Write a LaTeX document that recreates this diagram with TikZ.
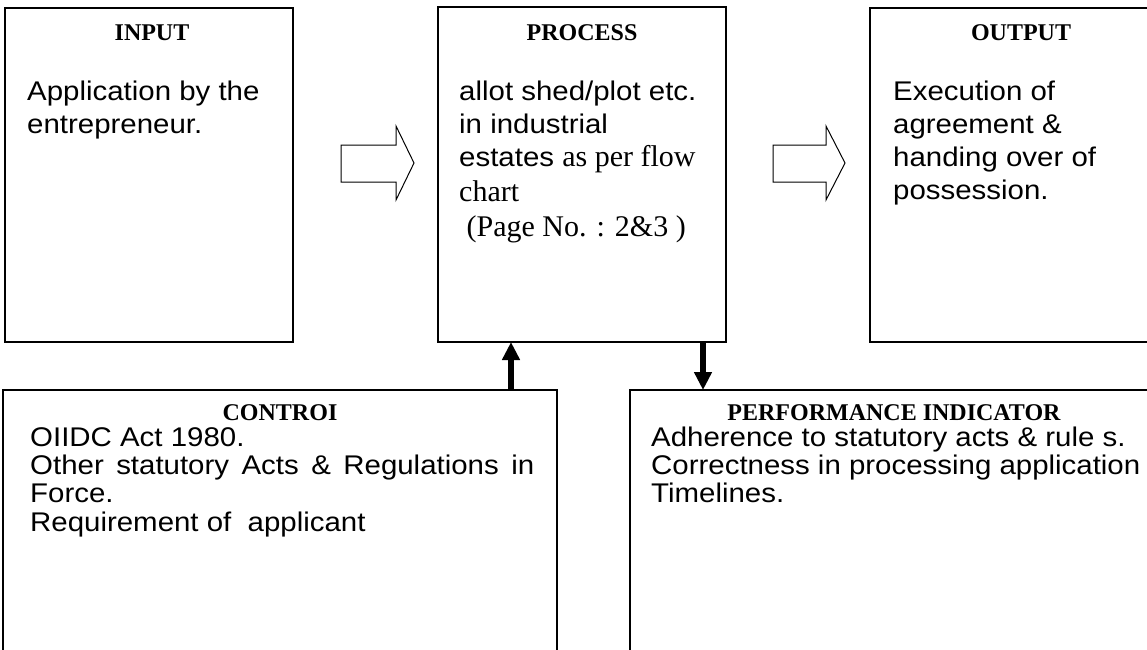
\documentclass[tikz,border=0pt]{standalone}
\usepackage{fontspec}
\setmainfont{Liberation Serif}
\newfontfamily\arialx[FakeStretch=1.09]{Liberation Sans}
\newcommand\bodyfont{\arialx\fontsize{27}{32}\selectfont}
\newcommand\titlefont{\rmfamily\bfseries\fontsize{24}{28}\selectfont}
\newcommand\timesfont{\rmfamily\fontsize{30}{34}\selectfont}
\usetikzlibrary{arrows.meta}
\begin{document}
\begin{tikzpicture}[x=1pt,y=-1pt,
  box/.style={draw, line width=1.7pt, inner sep=0pt, outer sep=0pt, anchor=north west},
  txt/.style={anchor=base west, inner sep=0pt, font=\bodyfont},
  ttl/.style={anchor=base, inner sep=0pt, font=\titlefont},
  tms/.style={anchor=base west, inner sep=0pt, font=\timesfont},
  hollow/.style={draw, line width=1pt, fill=white, line join=miter},
  solidarrow/.style={line width=6pt, -{Triangle[width=17pt,length=18pt]}}]
\useasboundingbox (0,0) rectangle (1147,649);
\clip (0,0) rectangle (1147,649);
\fill[white] (0,0) rectangle (1147,649);

% boxes
\node[box, minimum width=288pt, minimum height=334pt] (input) at (5,8) {};
\node[box, minimum width=288pt, minimum height=335pt] (process) at (438,7) {};
\node[box, minimum width=302pt, minimum height=334pt] (output) at (870,8) {};
\node[box, minimum width=554pt, minimum height=300pt] (control) at (3,390) {};
\node[box, minimum width=528pt, minimum height=300pt] (perf) at (630,390) {};

% titles
\node[ttl] (inT) at (152,40) {INPUT};
\node[ttl] (prT) at (582,40) {PROCESS};
\node[ttl] (ouT) at (1021,40) {OUTPUT};
\node[ttl] (coT) at (280,420) {CONTROI};
\node[ttl] (peT) at (894,420) {PERFORMANCE INDICATOR};

% input text
\node[txt] (in1) at (27,100) {Application by the};
\node[txt] (in2) at (27,133) {entrepreneur.};

% process text
\node[txt] (pr1) at (459,100) {allot shed/plot etc.};
\node[txt] (pr2) at (459,133) {in industrial};
\node[txt] (pr3) at (459,166) {estates {\timesfont as per flow}};
\node[tms] (pr4) at (459,201) {chart};
\node[tms] (pr5) at (459,236) {\ (Page No. : 2\&3 )};

% output text
\node[txt] (ou1) at (893,100) {Execution of};
\node[txt] (ou2) at (893,133) {agreement \&};
\node[txt] (ou3) at (893,166) {handing over of};
\node[txt] (ou4) at (893,199) {possession.};

% control text
\node[txt] (co1) at (30,446) {OIIDC Act 1980.};
\node[txt] (co2) at (30,474) {\makebox[504pt][s]{Other statutory Acts \& Regulations in}};
\node[txt] (co3) at (30,502) {Force.};
\node[txt] (co4) at (30,531) {Requirement of \ applicant};

% performance text
\node[txt] (pe1) at (651,446) {Adherence to statutory acts \& rule s.};
\node[txt] (pe2) at (651,474) {Correctness in processing application};
\node[txt] (pe3) at (651,502) {Timelines.};

% hollow block arrows
\draw[hollow] (341,145) -- (396,145) -- (396,126) -- (414,163) -- (396,200) -- (396,182) -- (341,182) -- cycle;
\draw[hollow] (773,145) -- (826,145) -- (826,126) -- (845,163) -- (826,200) -- (826,182) -- (773,182) -- cycle;

% solid arrows
\coordinate (upx) at (511,0);
\coordinate (dnx) at (703,0);
\draw[solidarrow] (control.north -| upx) -- (process.south -| upx);
\draw[solidarrow] (process.south -| dnx) -- (perf.north -| dnx);
\end{tikzpicture}
\end{document}
